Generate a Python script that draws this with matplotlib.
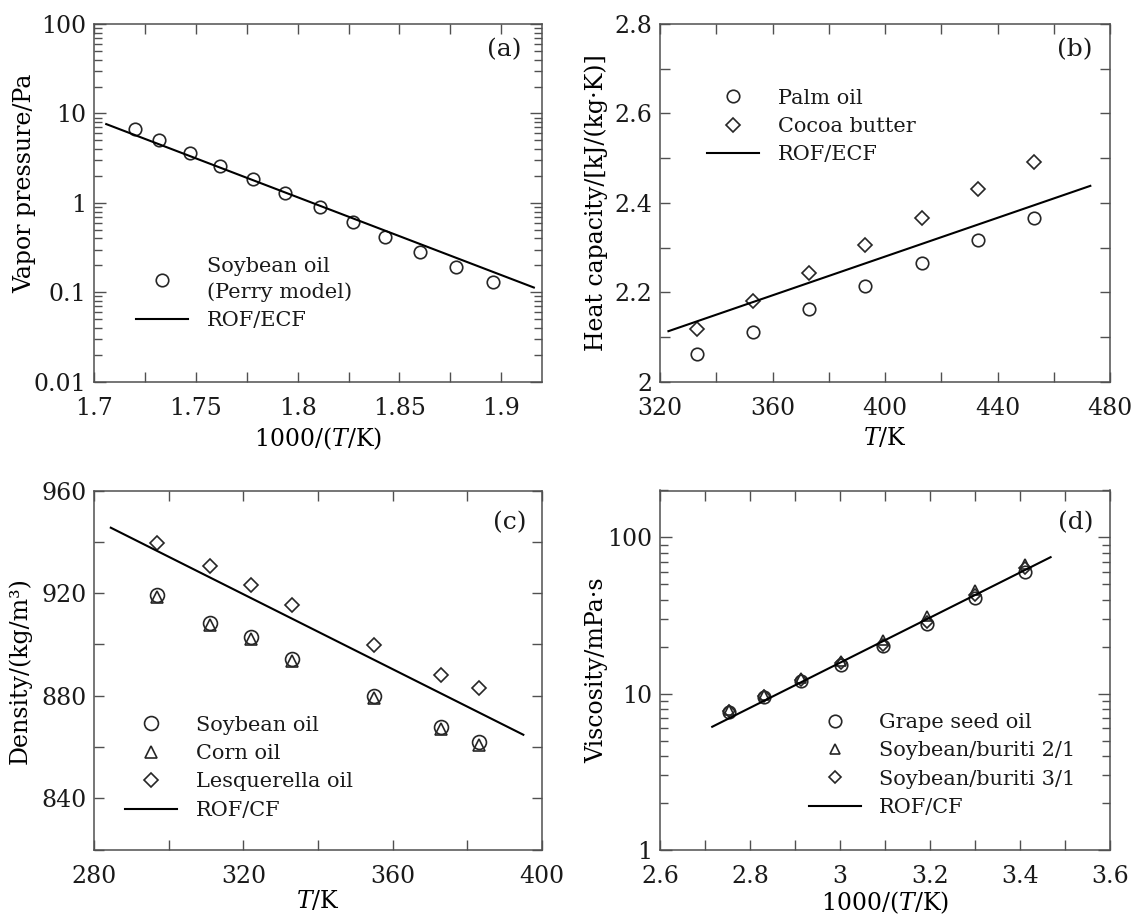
import matplotlib
matplotlib.use("Agg")
import matplotlib.pyplot as plt
from matplotlib.ticker import MultipleLocator, LogLocator, NullFormatter, FuncFormatter

# (a) vapour pressure of soybean oil
a_invT = [1.720, 1.732, 1.747, 1.762, 1.778, 1.794, 1.811, 1.827, 1.843, 1.860, 1.878, 1.896]
a_pres = [6.7, 5.1, 3.65, 2.6, 1.85, 1.28, 0.89, 0.614, 0.418, 0.284, 0.193, 0.131]
a_fit_invT = [1.706, 1.916]
a_fit_pres = [7.6, 0.113]

# (b) heat capacity
b_T = [333, 353, 373, 393, 413, 433, 453]
b_palm = [2.061, 2.112, 2.163, 2.214, 2.265, 2.317, 2.367]
b_cocoa = [2.118, 2.181, 2.243, 2.306, 2.367, 2.430, 2.492]
b_fit_T = [323, 473]
b_fit_cp = [2.113, 2.438]

# (c) density
c_T = [297, 311, 322, 333, 355, 373, 383]
c_soy = [919.3, 908.3, 902.8, 894.3, 879.8, 867.8, 861.8]
c_corn = [918.4, 907.6, 902.2, 893.4, 879.3, 867.2, 860.8]
c_lesq = [939.7, 930.7, 923.0, 915.2, 899.9, 888.2, 883.1]
c_fit_T = [284.5, 395]
c_fit_rho = [945.5, 864.8]

# (d) viscosity
d_invT = [2.754, 2.832, 2.914, 3.002, 3.095, 3.194, 3.299, 3.411]
d_grape = [7.6, 9.5, 12.0, 15.3, 20.2, 28.1, 40.8, 60.0]
d_sb21 = [7.9, 9.8, 12.5, 16.1, 21.9, 31.2, 45.8, 68.0]
d_sb31 = [7.75, 9.65, 12.2, 15.6, 20.6, 28.9, 43.0, 63.5]
d_fit_invT = [2.716, 3.468]
d_fit_visc = [6.13, 74.8]

plt.rcParams["font.family"] = ["DejaVu Serif"]
plt.rcParams["mathtext.fontset"] = "custom"
plt.rcParams["mathtext.rm"] = "DejaVu Serif"
plt.rcParams["mathtext.it"] = "DejaVu Serif:italic"
plt.rcParams["text.color"] = "#1a1a1a"

W, H = 1132, 918
fig = plt.figure(figsize=(W / 100, H / 100), dpi=100)

SPINE = "#505050"
MK = "#262626"
TICK_FS = 17
LABEL_FS = 17
LEG_FS = 15
TAG_FS = 18
fmt = FuncFormatter(lambda v, p: f"{v:g}")


def make_axes(x0, y0, x1, y1):
    ax = fig.add_axes([x0 / W, 1 - y1 / H, (x1 - x0) / W, (y1 - y0) / H])
    for s in ax.spines.values():
        s.set_color(SPINE)
        s.set_linewidth(1.1)
    ax.tick_params(which="both", direction="in", top=True, right=True,
                   color=SPINE, width=1.0, labelsize=TICK_FS, labelcolor="#1a1a1a")
    ax.tick_params(axis="x", which="both", pad=11)
    ax.tick_params(axis="y", which="both", pad=5.5)
    return ax


def linear_ticks(ax, axis, major, minor):
    a = ax.xaxis if axis == "x" else ax.yaxis
    a.set_major_locator(MultipleLocator(major))
    a.set_minor_locator(MultipleLocator(minor))
    a.set_major_formatter(fmt)
    ax.tick_params(axis=axis, which="both", length=7)


def log_ticks(ax):
    ax.yaxis.set_major_locator(LogLocator(base=10, numticks=12))
    ax.yaxis.set_minor_locator(LogLocator(base=10, subs=range(2, 10), numticks=12))
    ax.yaxis.set_major_formatter(fmt)
    ax.yaxis.set_minor_formatter(NullFormatter())
    ax.tick_params(axis="y", which="major", length=8.5)
    ax.tick_params(axis="y", which="minor", length=5.5)


def legend(ax, x, y):
    leg = ax.legend(loc="upper left", bbox_to_anchor=(x, y), frameon=False,
                    borderpad=0, borderaxespad=0, handlelength=2.5,
                    handletextpad=0.9, labelspacing=0.45, fontsize=LEG_FS)
    for t in leg.get_texts():
        t.set_linespacing(1.4)
    return leg


def panel_tag(ax, text, x, y):
    ax.text(x, y, text, transform=ax.transAxes, ha="center", va="center",
            fontsize=TAG_FS)


mk = dict(linestyle="none", markerfacecolor="none", markeredgecolor=MK,
          markeredgewidth=1.2)
ln = dict(color="black", linewidth=1.5)
xlab_T = r"$T$/K"
xlab_inv = r"1000/($T$/K)"

# ---------- (a) ----------
ax = make_axes(94, 24, 542, 381.7)
ax.plot(a_invT, a_pres, marker="o", markersize=9, label="Soybean oil\n(Perry model)", **mk)
ax.plot(a_fit_invT, a_fit_pres, label="ROF/ECF", **ln)
ax.set_yscale("log")
ax.set_xlim(1.7, 1.92)
ax.set_ylim(0.01, 100)
linear_ticks(ax, "x", 0.05, 0.025)
log_ticks(ax)
ax.set_xlabel(xlab_inv, fontsize=LABEL_FS, labelpad=4)
ax.set_ylabel("Vapor pressure/Pa", fontsize=LABEL_FS)
ax.yaxis.set_label_coords(-0.13, 0.555)
legend(ax, 0.094, 0.349)
panel_tag(ax, "(a)", 0.915, 0.927)

# ---------- (b) ----------
ax = make_axes(660, 24, 1110, 381.7)
ax.plot(b_T, b_palm, marker="o", markersize=9, label="Palm oil", **mk)
ax.plot(b_T, b_cocoa, marker="D", markersize=7, label="Cocoa butter", **mk)
ax.plot(b_fit_T, b_fit_cp, label="ROF/ECF", **ln)
ax.set_xlim(320, 480)
ax.set_ylim(2.0, 2.8)
linear_ticks(ax, "x", 40, 20)
linear_ticks(ax, "y", 0.2, 0.1)
ax.set_xlabel(xlab_T, fontsize=LABEL_FS, labelpad=4)
ax.set_ylabel("Heat capacity/[kJ/(kg·K)]", fontsize=LABEL_FS)
ax.yaxis.set_label_coords(-0.116, 0.5)
legend(ax, 0.104, 0.819)
panel_tag(ax, "(b)", 0.922, 0.927)

# ---------- (c) ----------
ax = make_axes(94, 490.5, 542, 849.7)
ax.plot(c_T, c_soy, marker="o", markersize=10, label="Soybean oil", **mk)
ax.plot(c_T, c_corn, marker="^", markersize=8, label="Corn oil", **mk)
ax.plot(c_T, c_lesq, marker="D", markersize=7, label="Lesquerella oil", **mk)
ax.plot(c_fit_T, c_fit_rho, label="ROF/CF", **ln)
ax.set_xlim(280, 400)
ax.set_ylim(820, 960)
linear_ticks(ax, "x", 40, 20)
linear_ticks(ax, "y", 40, 20)
ax.set_xlabel(xlab_T, fontsize=LABEL_FS, labelpad=1)
ax.set_ylabel("Density/(kg/m³)", fontsize=LABEL_FS)
ax.yaxis.set_label_coords(-0.138, 0.5)
legend(ax, 0.069, 0.373)
panel_tag(ax, "(c)", 0.928, 0.91)

# ---------- (d) ----------
ax = make_axes(660, 490.5, 1110, 849.7)
ax.plot(d_invT, d_grape, marker="o", markersize=9, label="Grape seed oil", **mk)
ax.plot(d_invT, d_sb21, marker="^", markersize=7.5, label="Soybean/buriti 2/1", **mk)
ax.plot(d_invT, d_sb31, marker="D", markersize=6, label="Soybean/buriti 3/1", **mk)
ax.plot(d_fit_invT, d_fit_visc, label="ROF/CF", **ln)
ax.set_yscale("log")
ax.set_xlim(2.6, 3.6)
ax.set_ylim(1, 200)
linear_ticks(ax, "x", 0.2, 0.1)
log_ticks(ax)
ax.set_xlabel(xlab_inv, fontsize=LABEL_FS, labelpad=1)
ax.set_ylabel("Viscosity/mPa·s", fontsize=LABEL_FS)
ax.yaxis.set_label_coords(-0.114, 0.5)
legend(ax, 0.33, 0.381)
panel_tag(ax, "(d)", 0.925, 0.91)

fig.savefig("out.png", dpi=100)
